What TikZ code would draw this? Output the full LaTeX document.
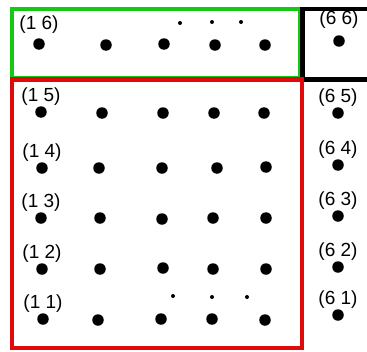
\documentclass[tikz,border=0pt]{standalone}
\usepackage{fontspec}
\setmainfont{Liberation Sans}
\usetikzlibrary{positioning}
\definecolor{boxgreen}{RGB}{20,200,20}
\definecolor{boxred}{RGB}{225,10,10}

\begin{document}
\begin{tikzpicture}[x=1pt,y=-1pt,
  dot/.style={circle,fill=black,inner sep=0pt,minimum size=11.5pt},
  small dot/.style={circle,fill=black,inner sep=0pt,minimum size=4pt},
  pair/.style={inner sep=0pt,font=\fontsize{19}{20}\selectfont},
  box/.style={line width=4.5pt}]

  \useasboundingbox (0,0) rectangle (367,351);
  \clip (0,0) rectangle (367,351);

  % the three boxes
  \draw[box,boxgreen] (12,9) rectangle (300,78);
  \draw[box] (380,9) -- (302.5,9) -- (302.5,79.5) -- (380,79.5);
  \draw[box,boxred] (12,79.5) rectangle (302,348);

  % row 6
  \node[dot] (16) at (39,44) {};
  \node[dot] (26) at (106,45) {};
  \node[dot] (36) at (164,44) {};
  \node[dot] (46) at (215,45) {};
  \node[dot] (56) at (265,45) {};
  \node[dot] (66) at (339,41) {};
  % row 5
  \node[dot] (15) at (41,112) {};
  \node[dot] (25) at (102,113) {};
  \node[dot] (35) at (163,113) {};
  \node[dot] (45) at (214,113) {};
  \node[dot] (55) at (264,113) {};
  \node[dot] (65) at (338,113) {};
  % row 4
  \node[dot] (14) at (42,168) {};
  \node[dot] (24) at (99,168) {};
  \node[dot] (34) at (162,168) {};
  \node[dot] (44) at (217,168) {};
  \node[dot] (54) at (266,167) {};
  \node[dot] (64) at (338,165) {};
  % row 3
  \node[dot] (13) at (41,218) {};
  \node[dot] (23) at (100,218) {};
  \node[dot] (33) at (162,219) {};
  \node[dot] (43) at (213,218) {};
  \node[dot] (53) at (266,218) {};
  \node[dot] (63) at (338,216) {};
  % row 2
  \node[dot] (12) at (42,269) {};
  \node[dot] (22) at (100,269) {};
  \node[dot] (32) at (163,268) {};
  \node[dot] (42) at (213,269) {};
  \node[dot] (52) at (266,269) {};
  \node[dot] (62) at (338,267) {};
  % row 1
  \node[dot] (11) at (43,319) {};
  \node[dot] (21) at (98,320) {};
  \node[dot] (31) at (161,319) {};
  \node[dot] (41) at (212,319) {};
  \node[dot] (51) at (265,320) {};
  \node[dot] (61) at (338,315) {};

  % dots for the elided states
  \node[small dot] (e1) at (180,23) {};
  \node[small dot] (e2) at (212,22) {};
  \node[small dot] (e3) at (241,22) {};
  \node[small dot] (f1) at (173,296) {};
  \node[small dot] (f2) at (212,297) {};
  \node[small dot] (f3) at (247,297) {};

  % labels
  \node[pair, above=4.5pt of 16] {(1 6)};
  \node[pair, above=6pt of 66] {(6 6)};
  \foreach \r in {1,...,5} {
    \node[pair, above=0.5pt of 1\r] {(1 \r)};
    \node[pair, above=0.5pt of 6\r] {(6 \r)};
  }
\end{tikzpicture}
\end{document}
